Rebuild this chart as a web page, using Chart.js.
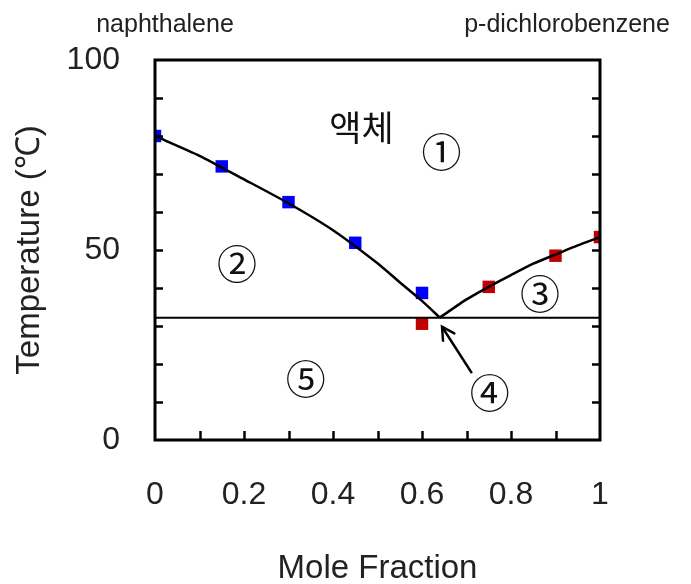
<!DOCTYPE html>
<html>
<head>
<meta charset="utf-8">
<script src="https://cdn.jsdelivr.net/npm/chart.js@4/dist/chart.umd.min.js"></script>
<style>
  html, body { margin: 0; padding: 0; background: #fff; }
  #wrap { width: 691px; height: 584px; }
</style>
</head>
<body>
<div id="wrap"><canvas id="c" width="691" height="584"></canvas></div>
<script>
// ---- data ----
const naphX = [0, 0.15, 0.30, 0.45, 0.60];
const naphT = [80, 72, 62.6, 51.9, 38.7];
const dcbX = [0.60, 0.75, 0.90, 1.00];
const dcbT = [30.6, 40.3, 48.5, 53.4];
const leftCurveX = [0, 0.1, 0.2, 0.3, 0.4, 0.5, 0.55, 0.6, 0.64];
const leftCurveT = [80, 74.8, 68.6, 62.3, 55.2, 46.5, 41.5, 36.6, 32.2];
const rightCurveX = [0.64, 0.7, 0.75, 0.8, 0.85, 0.9, 0.95, 1.0];
const rightCurveT = [32.2, 37.0, 40.3, 43.4, 46.4, 48.8, 51.2, 53.4];
const eutecticT = 32.2;
const eutecticLineX = [0, 1];
const arrowX = [0.712, 0.645];
const arrowT = [17.6, 29.8];
const yTickLabels = [0, 50, 100];
const xTickLabels = [0, 0.2, 0.4, 0.6, 0.8, 1];
const regionLabels = ['액체', '①', '②', '③', '④', '⑤'];
const regionX = [0.464, 0.644, 0.184, 0.865, 0.752, 0.339];
const regionT = [82.2, 76.0, 46.6, 38.7, 12.8, 16.3];

const zip = (xs, ys) => xs.map((x, i) => ({ x: x, y: ys[i] }));

const FONT = "'Liberation Sans', Arial, sans-serif";
const KFONT = "'Noto Sans CJK KR', 'Liberation Sans', sans-serif";
const TXT = '#222';

const decorPlugin = {
  id: 'decor',
  afterDatasetsDraw(chart) {
    const ctx = chart.ctx;
    const xs = chart.scales.x, ys = chart.scales.y;
    const L = xs.left, R = xs.right, T = ys.top, B = ys.bottom;
    ctx.save();
    // frame
    ctx.strokeStyle = '#000';
    ctx.lineWidth = 3;
    ctx.lineCap = 'square';
    ctx.strokeRect(L, T, R - L, B - T);
    // inward ticks
    ctx.lineWidth = 2.5;
    ctx.lineCap = 'butt';
    ys.ticks.forEach(t => {
      if (t.value <= ys.min || t.value >= ys.max) return;
      const py = Math.round(ys.getPixelForValue(t.value)) + 0.5;
      ctx.beginPath();
      ctx.moveTo(L, py); ctx.lineTo(L + 8, py);
      ctx.moveTo(R, py); ctx.lineTo(R - 8, py);
      ctx.stroke();
    });
    xs.ticks.forEach(t => {
      if (t.value <= xs.min || t.value >= xs.max) return;
      const px = Math.round(xs.getPixelForValue(t.value)) + 0.5;
      ctx.beginPath();
      ctx.moveTo(px, B); ctx.lineTo(px, B - 9);
      ctx.stroke();
    });
    // arrow head
    const hx = xs.getPixelForValue(arrowX[1]), hy = ys.getPixelForValue(arrowT[1]);
    const tx = xs.getPixelForValue(arrowX[0]), ty = ys.getPixelForValue(arrowT[0]);
    const ang = Math.atan2(hy - ty, hx - tx);
    const len = 14, spread = 0.5;
    ctx.lineWidth = 2.5;
    ctx.lineCap = 'round';
    ctx.beginPath();
    ctx.moveTo(hx - len * Math.cos(ang - spread), hy - len * Math.sin(ang - spread));
    ctx.lineTo(hx, hy);
    ctx.lineTo(hx - len * Math.cos(ang + spread), hy - len * Math.sin(ang + spread));
    ctx.stroke();
    // region labels
    ctx.fillStyle = '#111';
    ctx.textAlign = 'center';
    ctx.textBaseline = 'middle';
    regionLabels.forEach((s, i) => {
      ctx.font = (i === 0 ? '35px ' : '40px ') + KFONT;
      ctx.fillText(s, xs.getPixelForValue(regionX[i]), ys.getPixelForValue(regionT[i]) + (i === 0 ? 0 : 1));
    });
    // component names
    ctx.font = '25px ' + FONT;
    ctx.fillStyle = TXT;
    ctx.fillText('naphthalene', L + 10, 25);
    ctx.fillText('p-dichlorobenzene', R - 33, 25);
    ctx.restore();
  }
};

new Chart(document.getElementById('c'), {
  type: 'scatter',
  data: {
    datasets: [
      { data: zip(leftCurveX, leftCurveT), showLine: true, borderColor: '#000', borderWidth: 2.5, pointRadius: 0, tension: 0.2 },
      { data: zip(rightCurveX, rightCurveT), showLine: true, borderColor: '#000', borderWidth: 2.5, pointRadius: 0, tension: 0.2 },
      { data: zip(eutecticLineX, [eutecticT, eutecticT]), showLine: true, borderColor: '#000', borderWidth: 2, pointRadius: 0 },
      { data: zip(arrowX, arrowT), showLine: true, borderColor: '#000', borderWidth: 2.5, pointRadius: 0 },
      { data: zip(naphX, naphT), pointStyle: 'rect', pointRadius: 8.8, pointHoverRadius: 8.8, backgroundColor: '#0000FF', borderWidth: 0 },
      { data: zip(dcbX, dcbT), pointStyle: 'rect', pointRadius: 8.8, pointHoverRadius: 8.8, backgroundColor: '#C00000', borderWidth: 0 }
    ]
  },
  options: {
    responsive: false,
    animation: false,
    events: [],
    layout: { padding: { left: 0, top: 60, right: 91, bottom: 0 } },
    plugins: { legend: { display: false }, tooltip: { enabled: false } },
    scales: {
      x: {
        type: 'linear', min: 0, max: 1,
        grid: { display: false, drawTicks: false },
        border: { display: false },
        afterFit: s => { s.height = 144; },
        ticks: {
          stepSize: 0.1, autoSkip: false, maxRotation: 0, padding: 36,
          color: TXT, font: { family: FONT, size: 32 },
          callback: v => {
            const r = Math.round(v * 10) / 10;
            return xTickLabels.some(t => Math.abs(t - r) < 1e-9) ? String(r) : '';
          }
        },
        title: { display: true, text: 'Mole Fraction', color: TXT,
                 font: { family: FONT, size: 33, lineHeight: 0.9 }, padding: { top: 0, bottom: 0 } }
      },
      y: {
        type: 'linear', min: 0, max: 100,
        grid: { display: false, drawTicks: false },
        border: { display: false },
        afterFit: s => { s.width = 155; },
        ticks: {
          stepSize: 10, autoSkip: false, padding: 35,
          color: TXT, font: { family: FONT, size: 32 },
          callback: v => yTickLabels.includes(v) ? String(v) : ''
        },
        title: { display: true, text: 'Temperature (℃)', color: TXT,
                 font: { family: FONT, size: 33, lineHeight: 1 }, padding: { top: 13, bottom: 0 } }
      }
    }
  },
  plugins: [decorPlugin]
});
</script>
</body>
</html>
